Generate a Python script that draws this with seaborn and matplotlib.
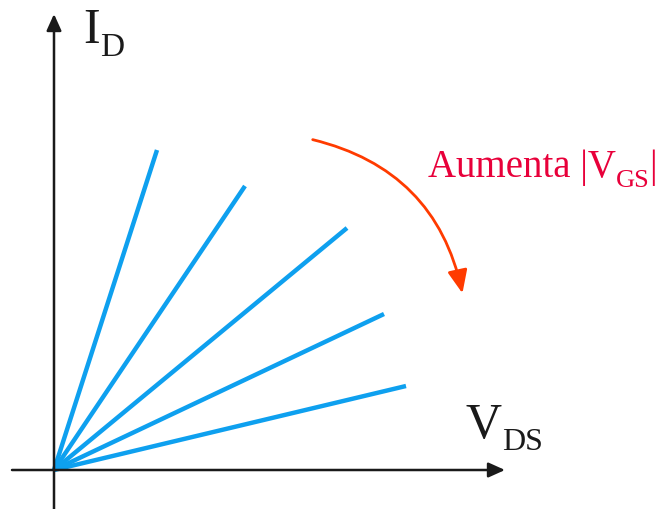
import numpy as np
import pandas as pd
import matplotlib.pyplot as plt
import seaborn as sns
from matplotlib.patches import FancyArrowPatch

# end points of each I_D-V_DS line (triode region), origin at (0, 0)
vds_end = [103, 191, 293, 330, 352]
id_end = [320, 284, 242, 156, 84]
curve = ["c1", "c2", "c3", "c4", "c5"]

rows = []
for c, v, i in zip(curve, vds_end, id_end):
    rows.append({"curve": c, "VDS": 0, "ID": 0})
    rows.append({"curve": c, "VDS": v, "ID": i})
df = pd.DataFrame(rows)

sns.set_style("white")
plt.rcParams["font.family"] = ["Liberation Serif", "DejaVu Serif"]

fig = plt.figure(figsize=(6.68, 5.09), dpi=100)
ax = fig.add_axes([0, 0, 1, 1])

sns.lineplot(data=df, x="VDS", y="ID", hue="curve", units="curve", estimator=None,
             palette=["#0ea0ef"] * 5, linewidth=3.2, legend=False, ax=ax,
             solid_capstyle="butt")

# axes with arrows
ax.annotate("", xy=(451, 0), xytext=(-42, 0),
            arrowprops=dict(arrowstyle="-|>,head_length=1.0,head_width=0.45",
                            color="#1a1a1a", lw=1.8, shrinkA=0, shrinkB=0))
ax.annotate("", xy=(0, 456), xytext=(0, -39),
            arrowprops=dict(arrowstyle="-|>,head_length=1.0,head_width=0.45",
                            color="#1a1a1a", lw=1.8, shrinkA=0, shrinkB=0))


def sub_label(x, y, main, sub, y_sub, size, sub_size, color, tail=None):
    t = ax.text(x, y, main, fontsize=size, color=color, va="baseline")
    s = ax.annotate(sub, xy=(1.0, y_sub), xycoords=(t, "data"), fontsize=sub_size,
                    color=color, va="baseline", ha="left")
    if tail:
        ax.annotate(tail, xy=(1.0, y), xycoords=(s, "data"), fontsize=size,
                    color=color, va="baseline", ha="left")


sub_label(29, 427, "I", "D", 414, 36, 24, "#1a1a1a")
sub_label(412, 32, "V", "DS", 20, 36, 23, "#1a1a1a")

# curved arrow
arr = FancyArrowPatch((256, 331), (409, 174), connectionstyle="arc3,rad=-0.32",
                      arrowstyle="-|>,head_length=5.6,head_width=2.4",
                      color="#ff3b00", lw=2, mutation_scale=2.5)
ax.add_patch(arr)
sub_label(374, 293, "Aumenta |V", "GS", 283, 28, 19, "#e8003a", tail="|")

ax.set_xlim(-54, 614)
ax.set_ylim(-39, 470)
ax.axis("off")

fig.savefig("out.png", dpi=100)
